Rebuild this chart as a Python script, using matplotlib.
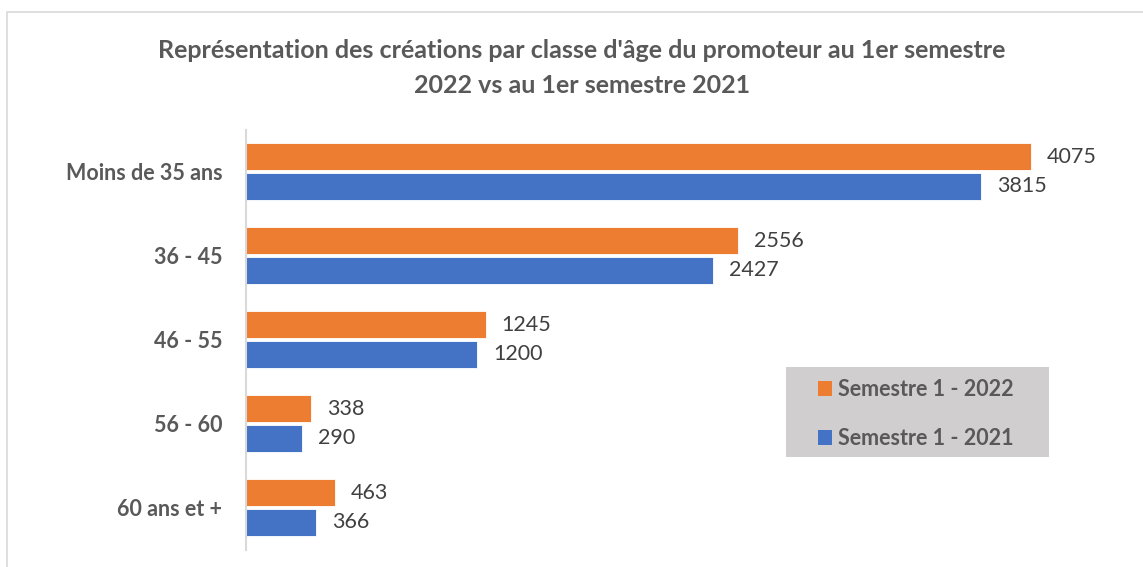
import matplotlib
matplotlib.use("Agg")
import matplotlib.pyplot as plt
from matplotlib.patches import Rectangle, Patch
import numpy as np

categories = ["Moins de 35 ans", "36 - 45", "46 - 55", "56 - 60", "60 ans et +"]
s2022 = [4075, 2556, 1245, 338, 463]
s2021 = [3815, 2427, 1200, 290, 366]
series_names = ["Semestre 1 - 2022", "Semestre 1 - 2021"]
title = "Représentation des créations par classe d'âge du promoteur au 1er semestre\n2022 vs au 1er semestre 2021"

plt.rcParams['font.family'] = ['Lato', 'DejaVu Sans']
W, H = 1143, 567
fig = plt.figure(figsize=(W/100, H/100), dpi=100)
fig.patch.set_facecolor("white")

# outer frame
fig.patches.append(Rectangle((7/W, -0.1), 1.2, 1 - 12/H + 0.1, transform=fig.transFigure,
                             fill=False, edgecolor="#D9D9D9", linewidth=1.2))
# legend background
fig.patches.append(Rectangle((786/W, 1 - 457/H), 263/W, 90/H, transform=fig.transFigure,
                             facecolor="#D0CECE", edgecolor="none", zorder=0))

ax = fig.add_axes([246/W, 1 - 549.5/H, 866.8/W, 420/H])
ax.patch.set_alpha(0)
y = np.arange(len(categories))
h = 0.32
off = 0.178
orange = "#ED7D31"
blue = "#4472C4"
gray = "#595959"
b1 = ax.barh(y - off, s2022, height=h, color=orange, edgecolor="white", linewidth=0.6)
b2 = ax.barh(y + off, s2021, height=h, color=blue, edgecolor="white", linewidth=0.6)
ax.set_xlim(0, 4500)
ax.set_ylim(len(categories) - 0.5, -0.5)
for bars, vals in ((b1, s2022), (b2, s2021)):
    for rect, v in zip(bars, vals):
        ax.annotate(str(v), (v, rect.get_y() + rect.get_height()/2), xytext=(11.5, 0),
                    textcoords="offset points", va="center", ha="left",
                    fontsize=15.5, color="#404040")
ax.set_yticks(y)
ax.set_yticklabels(categories, fontsize=15.5, fontweight="bold", color=gray)
ax.tick_params(axis="y", length=0, pad=17)
ax.set_xticks([])
for s in ("top", "right", "bottom"):
    ax.spines[s].set_visible(False)
ax.spines["left"].set_color("#D9D9D9")
ax.spines["left"].set_linewidth(1.5)

fig.text(582/W, 1 - 68/H, title, ha="center", va="center", fontsize=18,
         fontweight="bold", color=gray, linespacing=1.6)

handles = [Patch(facecolor=orange), Patch(facecolor=blue)]
leg = fig.legend(handles, series_names, loc="center left", bbox_to_anchor=(818/W, 1 - 414/H),
                 frameon=False, prop={"size": 15.5, "weight": "bold"}, labelcolor=gray,
                 handlelength=0.65, handleheight=0.65, handletextpad=0.3,
                 labelspacing=1.3, borderpad=0, borderaxespad=0)

fig.savefig("out.png", dpi=100)
